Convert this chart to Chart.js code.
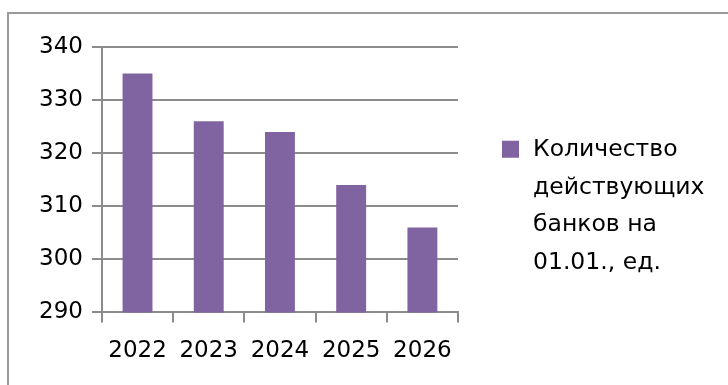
<!DOCTYPE html>
<html>
<head>
<meta charset="utf-8">
<script src="https://cdn.jsdelivr.net/npm/chart.js@4"></script>
<style>
  html, body { margin: 0; padding: 0; background: #fff; }
  #wrap { position: relative; width: 728px; height: 385px; overflow: hidden; }
  #frame { position: absolute; left: 7px; top: 12px; width: 800px; height: 500px; border: 2px solid #999; }
  canvas { position: absolute; left: 0; top: 0; }
</style>
</head>
<body>
<div id="wrap">
  <div id="frame"></div>
  <canvas id="chart" width="728" height="385"></canvas>
</div>
<script>
const years = ['2022', '2023', '2024', '2025', '2026'];
const banks = [335, 326, 324, 314, 306];
const seriesLabel = ['Количество', 'действующих', 'банков на', '01.01., ед.'];

const font = "'DejaVu Sans', sans-serif";
const fontSize = 23;
const gridColor = '#8c8c8c';
const barColor = '#8064A2';

// легенда справа, текст в несколько строк
const sideLegend = {
  id: 'sideLegend',
  afterDraw(chart) {
    const c = chart.ctx;
    const area = chart.chartArea;
    const lineH = 37.5;
    const boxSize = 17;
    const x = area.right + 44;
    const firstY = chart.height / 2 + 14 - lineH * (seriesLabel.length - 1) / 2;
    c.save();
    c.fillStyle = chart.data.datasets[0].backgroundColor;
    c.fillRect(x, firstY - boxSize / 2 - 1, boxSize, boxSize);
    c.fillStyle = '#000';
    c.font = '23.5px ' + font;
    c.textBaseline = 'middle';
    c.textAlign = 'left';
    seriesLabel.forEach((t, i) => c.fillText(t, x + boxSize + 14, firstY + i * lineH));
    c.restore();
  }
};

const ctx = document.getElementById('chart').getContext('2d');
const chart = new Chart(ctx, {
  type: 'bar',
  data: {
    labels: years,
    datasets: [{
      label: seriesLabel.join(' '),
      data: banks,
      backgroundColor: barColor,
      borderWidth: 0,
      categoryPercentage: 1,
      barPercentage: 0.42
    }]
  },
  options: {
    responsive: false,
    animation: false,
    layout: { padding: { top: 47, left: 30, bottom: 5, right: 270 } },
    plugins: {
      tooltip: { enabled: false },
      legend: { display: false }
    },
    scales: {
      x: {
        grid: { drawOnChartArea: false, drawTicks: true, tickLength: 10, color: gridColor, lineWidth: 2, offset: true },
        border: { color: gridColor, width: 2 },
        ticks: { color: '#000', font: { family: font, size: fontSize }, padding: 15, maxRotation: 0 }
      },
      y: {
        min: 290,
        max: 340,
        ticks: { stepSize: 10, color: '#000', font: { family: font, size: fontSize }, padding: 9 },
        grid: { color: gridColor, lineWidth: 2, tickLength: 10 },
        border: { color: gridColor, width: 2 }
      }
    }
  },
  plugins: [sideLegend]
});
</script>
</body>
</html>
